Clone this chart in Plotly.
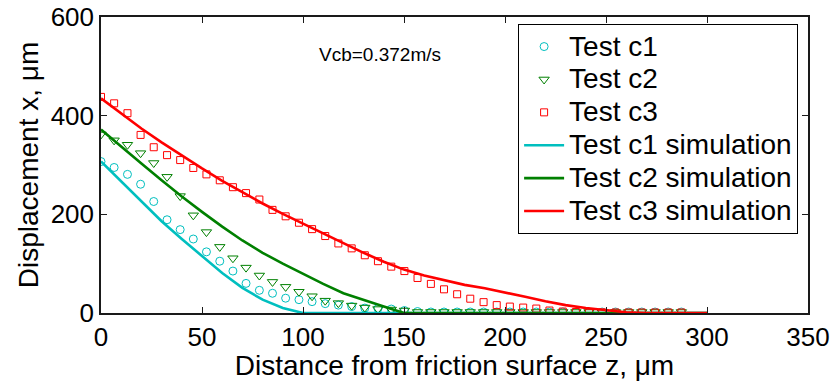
import plotly.graph_objects as go

# Measured depths (um) for the three tests
depth = [0.0, 6.5, 13.1, 19.6, 26.1, 32.7, 39.2, 45.7, 52.2, 58.8,
         65.3, 71.8, 78.4, 84.9, 91.4, 98.0, 104.5, 111.0, 117.5, 124.1,
         130.6, 137.1, 143.7, 150.2, 156.7, 163.3, 169.8, 176.3, 182.8, 189.4,
         195.9, 202.4, 209.0, 215.5, 222.0, 228.6, 235.1, 241.6, 248.1, 254.7,
         261.2, 267.7, 274.3, 280.8, 287.3]

test_c1 = [307, 295, 281, 261, 226, 189, 169, 150, 124, 105,
           85, 60, 46, 40, 30, 27, 23, 19, 16, 13,
           10, 9, 8, 5, 3, 2, 2, 2, 2, 2,
           2, 2, 2, 2, 2, 2, 2, 2, 2, 2,
           2, 2, 2, 2, 2]

test_c2 = [362, 350, 341, 324, 304, 276, 237, 198, 164, 134,
           111, 92, 76, 63, 53, 43, 34, 25, 20, 15,
           11, 8, 7, 5, 2, 2, 2, 2, 2, 2,
           2, 2, 2, 2, 2, 2, 2, 2, 2, 2,
           2, 2, 2, 2, 2]

test_c3 = [438, 425, 405, 361, 336, 320, 310, 294, 281, 269,
           255, 243, 230, 209, 196, 183, 170, 156, 141, 131,
           117, 105, 94, 85, 71, 59, 48, 38, 29, 22,
           16, 13, 11, 9, 5, 3, 2, 1, 1, 1,
           1, 1, 1, 1, 1]

# Simulated displacement profiles
sim_depth = [0, 10, 20, 30, 40, 50, 60, 70, 80, 90,
             100, 110, 120, 130, 140, 150, 160, 170, 180, 190,
             200, 210, 220, 230, 240, 250, 260, 270, 280, 290, 300]

sim_c1 = [307, 266, 225, 186, 150, 116, 81, 51, 27, 10,
          0, 0, 0, 0, 0, 0, 0, 0, 0, 0,
          0, 0, 0, 0, 0, 0, 0, 0, 0, 0, 0]

sim_c2 = [372, 337, 303, 269, 236, 205, 175, 147, 122, 100,
          79, 59, 40, 26, 13, 0, 0, 0, 0, 0,
          0, 0, 0, 0, 0, 0, 0, 0, 0, 0, 0]

sim_c3 = [435, 404, 374, 346, 319, 293, 268, 245, 222, 201,
          181, 161, 141, 122, 104, 88, 76, 66, 57, 50,
          42, 33, 24, 16, 10, 5, 1.5, 0, 0, 0, 0]

CYAN = "#00BFBF"
GREEN = "#008000"
RED = "#FF0000"
FONT = "Liberation Sans, Arial, sans-serif"


def big(label):
    return '<span style="font-size:28px">' + label + "</span>"


fig = go.Figure()

fig.add_trace(go.Scatter(x=depth, y=test_c1, mode="markers", name=big("Test c1"),
                         marker=dict(symbol="circle-open", size=8, color=CYAN,
                                     line=dict(width=1, color=CYAN))))
fig.add_trace(go.Scatter(x=depth, y=test_c2, mode="markers", name=big("Test c2"),
                         marker=dict(symbol="triangle-down-open", size=9, color=GREEN,
                                     line=dict(width=1, color=GREEN))))
fig.add_trace(go.Scatter(x=depth, y=test_c3, mode="markers", name=big("Test c3"),
                         marker=dict(symbol="square-open", size=7, color=RED,
                                     line=dict(width=1, color=RED))))

fig.add_trace(go.Scatter(x=sim_depth, y=sim_c1, mode="lines", name=big("Test c1 simulation"),
                         line=dict(color=CYAN, width=2.6)))
fig.add_trace(go.Scatter(x=sim_depth, y=sim_c2, mode="lines", name=big("Test c2 simulation"),
                         line=dict(color=GREEN, width=2.6)))
fig.add_trace(go.Scatter(x=sim_depth, y=sim_c3, mode="lines", name=big("Test c3 simulation"),
                         line=dict(color=RED, width=2.6)))

axis_common = dict(
    automargin=False,
    showline=True, linecolor="#1a1a1a", linewidth=1.5, mirror="ticks",
    ticks="inside", ticklen=6, tickwidth=1, tickcolor="#1a1a1a",
    showgrid=False, zeroline=False,
    tickfont=dict(family=FONT, size=26, color="black"),
)

fig.update_layout(
    width=832, height=381,
    margin=dict(l=101, r=24, t=17, b=68, autoexpand=False),
    paper_bgcolor="white", plot_bgcolor="white",
    font=dict(family=FONT, color="black"),
    xaxis=dict(range=[0, 350], tick0=0, dtick=50,
               title=dict(text="Distance from friction surface z, μm",
                          font=dict(family=FONT, size=28), standoff=0),
               **axis_common),
    yaxis=dict(range=[0, 600], tick0=0, dtick=200,
               title=dict(text="Displacement x, μm",
                          font=dict(family=FONT, size=28), standoff=4),
               **axis_common),
    legend=dict(x=0.986, y=0.976, xanchor="right", yanchor="top",
                bgcolor="white", bordercolor="black", borderwidth=1,
                font=dict(family=FONT, size=23, color="black"),
                itemwidth=40, tracegroupgap=0),
    showlegend=True,
)

fig.add_annotation(x=138, y=525, xref="x", yref="y", text="Vcb=0.372m/s",
                   showarrow=False, font=dict(family=FONT, size=19, color="black"))

fig.write_html("out.html")
